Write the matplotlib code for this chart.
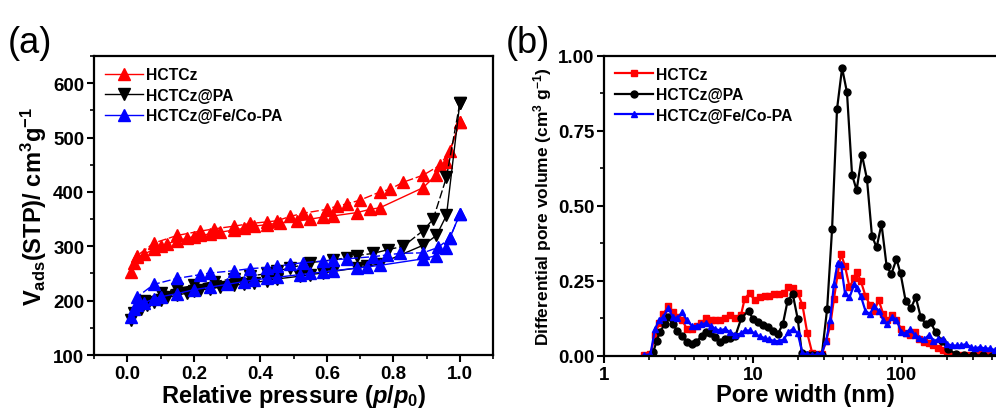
import matplotlib
matplotlib.use('Agg')
import matplotlib.pyplot as plt

plt.rcParams['font.family'] = ['Liberation Sans', 'DejaVu Sans']
plt.rcParams['font.weight'] = 'bold'
plt.rcParams['axes.labelweight'] = 'bold'
plt.rcParams['mathtext.fontset'] = 'custom'
plt.rcParams['mathtext.rm'] = 'Liberation Sans:bold'
plt.rcParams['mathtext.it'] = 'Liberation Sans:bold:italic'
plt.rcParams['mathtext.bf'] = 'Liberation Sans:bold'

# ---- (a) N2 isotherms: adsorption / desorption branches ----
p_ads_1 = [0.01, 0.02, 0.03, 0.05, 0.08, 0.10, 0.12, 0.15, 0.18, 0.20, 0.22, 0.25, 0.28,
           0.32, 0.35, 0.38, 0.42, 0.46, 0.51, 0.55, 0.59, 0.62, 0.69, 0.73, 0.76, 0.89,
           0.93, 0.96, 1.00]
v_ads_1 = [252, 270, 280, 285, 295, 300, 305, 310, 315, 318, 320, 323, 326,
           330, 333, 337, 340, 343, 346, 350, 354, 356, 362, 368, 371, 408,
           432, 456, 528]
p_des_1 = [1.00, 0.97, 0.94, 0.89, 0.83, 0.79, 0.76, 0.70, 0.66, 0.63, 0.60, 0.53, 0.49,
           0.45, 0.42, 0.37, 0.32, 0.26, 0.22, 0.15, 0.08, 0.03]
v_des_1 = [528, 476, 449, 431, 418, 405, 400, 385, 378, 374, 368, 361, 355,
           347, 345, 342, 337, 332, 328, 320, 306, 283]

p_ads_2 = [0.01, 0.02, 0.04, 0.06, 0.08, 0.10, 0.12, 0.15, 0.18, 0.20, 0.22, 0.25, 0.28,
           0.32, 0.35, 0.38, 0.42, 0.45, 0.52, 0.55, 0.59, 0.62, 0.69, 0.72, 0.76, 0.89,
           0.93, 0.96, 1.00]
v_ads_2 = [165, 178, 185, 192, 197, 202, 206, 210, 214, 217, 220, 222, 225,
           228, 231, 233, 237, 240, 245, 248, 251, 254, 260, 263, 268, 302,
           320, 357, 563]
p_des_2 = [1.00, 0.96, 0.92, 0.89, 0.83, 0.785, 0.74, 0.69, 0.66, 0.62, 0.55, 0.49, 0.45,
           0.42, 0.37, 0.32, 0.26, 0.20, 0.15, 0.10, 0.05]
v_des_2 = [563, 427, 350, 329, 300, 294, 287, 283, 279, 275, 270, 260, 255,
           250, 245, 240, 235, 228, 222, 215, 200]

p_ads_3 = [0.01, 0.02, 0.03, 0.05, 0.08, 0.10, 0.15, 0.20, 0.25, 0.30, 0.35, 0.38, 0.42,
           0.45, 0.52, 0.55, 0.59, 0.62, 0.69, 0.72, 0.76, 0.89, 0.93, 0.96, 0.97, 1.00]
v_ads_3 = [170, 185, 192, 196, 203, 207, 213, 220, 225, 230, 235, 238, 241,
           243, 248, 250, 253, 255, 260, 262, 265, 277, 283, 296, 315, 359]
p_des_3 = [1.00, 0.97, 0.935, 0.89, 0.82, 0.78, 0.74, 0.66, 0.62, 0.59, 0.53, 0.49, 0.45,
           0.42, 0.37, 0.32, 0.25, 0.22, 0.15, 0.08, 0.03]
v_des_3 = [359, 315, 298, 288, 287, 284, 281, 277, 275, 273, 270, 267, 263,
           261, 259, 255, 251, 248, 241, 230, 207]

# ---- (b) pore size distribution ----
w_1 = [1.85, 2.05, 2.2, 2.35, 2.5, 2.7, 2.9, 3.1, 3.35, 3.6, 3.9, 4.2, 4.5, 4.85, 5.2, 5.6,
       6.0, 6.5, 7.0, 7.6, 8.3, 8.8, 9.5, 10.3, 11.1, 12.0, 12.9, 13.9, 15.0, 16.1, 17.3,
       18.6, 20.0, 21.5, 23.2, 25.0, 27.0, 29.0, 31.0, 33.0, 35.0, 37.0, 39.0, 41.5, 44.5,
       48.0, 50.0, 53.0, 57.0, 61.0, 65.0, 70.0, 75.0, 80.0, 86.0, 92.0, 99.0, 106, 114,
       122, 131, 141, 152, 163, 175, 188, 202, 217, 233, 255, 280, 310, 340, 370, 400]
dv_1 = [0.003, 0.005, 0.07, 0.11, 0.14, 0.165, 0.145, 0.13, 0.12, 0.09, 0.09, 0.10, 0.11,
        0.125, 0.12, 0.12, 0.12, 0.125, 0.135, 0.125, 0.135, 0.19, 0.21, 0.185, 0.195, 0.20,
        0.20, 0.205, 0.205, 0.21, 0.23, 0.225, 0.21, 0.17, 0.075, 0.01, 0.005, 0.005, 0.05,
        0.10, 0.19, 0.27, 0.34, 0.30, 0.23, 0.26, 0.28, 0.25, 0.20, 0.17, 0.15, 0.185, 0.14,
        0.12, 0.135, 0.12, 0.09, 0.075, 0.07, 0.08, 0.055, 0.048, 0.042, 0.035, 0.028, 0.02,
        0.01, 0.003, 0.0, 0.002, 0.003, 0.004, 0.005, 0.005, 0.005]

w_2 = [2.14, 2.26, 2.37, 2.57, 2.69, 2.9, 3.1, 3.33, 3.59, 3.88, 4.18, 4.52, 4.83, 5.12, 5.55,
       5.99, 6.47, 7.0, 7.6, 8.36, 9.35, 10.0, 10.8, 11.7, 12.6, 13.6, 14.7, 15.9, 17.1,
       18.5, 20.0, 21.3, 23.0, 25.0, 27.0, 29.0, 31.5, 34.0, 36.7, 39.7, 42.8, 46.3, 49.7,
       54.0, 58.3, 63.0, 67.7, 73.0, 79.0, 85.0, 92.0, 98.0, 106, 115, 124, 134, 145, 156,
       169, 185, 204, 230, 260, 300, 350, 400]
dv_2 = [0.012, 0.051, 0.08, 0.107, 0.13, 0.107, 0.084, 0.066, 0.046, 0.04, 0.048, 0.066,
        0.079, 0.075, 0.063, 0.048, 0.055, 0.06, 0.065, 0.126, 0.151, 0.123, 0.112, 0.103,
        0.096, 0.084, 0.073, 0.107, 0.184, 0.207, 0.123, 0.01, 0.003, 0.002, 0.002, 0.003,
        0.157, 0.423, 0.823, 0.96, 0.879, 0.604, 0.553, 0.67, 0.59, 0.40, 0.362, 0.44, 0.30,
        0.273, 0.323, 0.275, 0.184, 0.159, 0.196, 0.129, 0.107, 0.112, 0.079, 0.051, 0.023,
        0.007, 0.003, 0.002, 0.002, 0.001]

w_3 = [1.85, 2.05, 2.2, 2.35, 2.5, 2.7, 2.9, 3.1, 3.35, 3.6, 3.9, 4.2, 4.5, 4.85, 5.2, 5.6,
       6.0, 6.5, 7.0, 7.6, 8.3, 8.8, 9.5, 10.3, 11.1, 12.0, 12.9, 13.9, 15.0, 16.1, 17.3,
       18.6, 20.0, 21.5, 23.2, 25.0, 27.0, 29.0, 31.0, 33.0, 35.0, 37.0, 39.0, 41.5, 44.5,
       48.0, 50.0, 53.0, 57.0, 61.0, 65.0, 70.0, 75.0, 80.0, 86.0, 92.0, 99.0, 106, 114,
       122, 131, 141, 152, 163, 175, 188, 202, 217, 233, 250, 270, 290, 310, 335, 360, 390,
       420]
dv_3 = [0.003, 0.005, 0.09, 0.12, 0.13, 0.16, 0.13, 0.125, 0.145, 0.12, 0.10, 0.10, 0.105,
        0.11, 0.10, 0.09, 0.085, 0.09, 0.08, 0.07, 0.075, 0.085, 0.085, 0.075, 0.065, 0.06,
        0.055, 0.05, 0.05, 0.055, 0.08, 0.09, 0.075, 0.01, 0.005, 0.003, 0.005, 0.01, 0.05,
        0.12, 0.24, 0.31, 0.305, 0.21, 0.195, 0.24, 0.225, 0.20, 0.15, 0.14, 0.165, 0.15,
        0.12, 0.105, 0.13, 0.12, 0.08, 0.075, 0.09, 0.07, 0.06, 0.055, 0.07, 0.05, 0.055,
        0.055, 0.04, 0.035, 0.035, 0.035, 0.04, 0.03, 0.025, 0.03, 0.025, 0.025, 0.02]

labels = ['HCTCz', 'HCTCz@PA', 'HCTCz@Fe/Co-PA']
colors = ['#ff0000', '#000000', '#0000ff']

fig = plt.figure(figsize=(9.96, 4.10), dpi=100)

ax1 = fig.add_axes([0.0944, 0.1317, 0.4006, 0.729])
iso = [(p_ads_1, v_ads_1, p_des_1, v_des_1, '^'),
       (p_ads_2, v_ads_2, p_des_2, v_des_2, 'v'),
       (p_ads_3, v_ads_3, p_des_3, v_des_3, '^')]
for (pa, va, pd_, vd, m), lab, c in zip(iso, labels, colors):
    ax1.plot(pa, va, color=c, marker=m, markersize=8.5, linewidth=1, label=lab)
    ax1.plot(pd_, vd, color=c, marker=m, markersize=8.5, linewidth=1, linestyle=(0, (6, 2)))
ax1.set_xlim(-0.1, 1.1)
ax1.set_ylim(100, 650)
ax1.set_xticks([0.0, 0.2, 0.4, 0.6, 0.8, 1.0])
ax1.set_xticks([-0.1, 0.1, 0.3, 0.5, 0.7, 0.9, 1.1], minor=True)
ax1.set_yticks([100, 200, 300, 400, 500, 600])
ax1.set_yticks([150, 250, 350, 450, 550, 650], minor=True)
ax1.set_xlabel(r'Relative pressure ($p/p_\mathrm{0}$)', fontsize=17, labelpad=0)
ax1.set_ylabel(r'V$_\mathrm{ads}$(STP)/ cm$^3$g$^{-1}$', fontsize=17, labelpad=3)
ax1.legend(loc='upper left', frameon=False, fontsize=11.3, handlelength=2.4,
           handletextpad=0.2, labelspacing=0.35, borderaxespad=0.3)
fig.text(0.008, 0.87, '(a)', fontsize=26, fontweight='normal')

ax2 = fig.add_axes([0.6064, 0.1293, 0.4036, 0.7317])
pmark = ['s', 'o', '^']
psd = [(w_1, dv_1), (w_2, dv_2), (w_3, dv_3)]
for (w, dv), lab, c, m in zip(psd, labels, colors, pmark):
    ax2.plot(w, dv, color=c, marker=m, markersize=5, linewidth=1.6, label=lab)
ax2.set_xscale('log')
ax2.set_xlim(1, 500)
ax2.set_ylim(0, 1.0)
ax2.set_yticks([0.0, 0.25, 0.5, 0.75, 1.0])
ax2.set_yticklabels(['0.00', '0.25', '0.50', '0.75', '1.00'])
ax2.set_yticks([0.125, 0.375, 0.625, 0.875], minor=True)
ax2.set_xticks([1, 10, 100])
ax2.set_xticklabels(['1', '10', '100'])
ax2.set_xlabel('Pore width (nm)', fontsize=17, labelpad=0)
ax2.set_ylabel(r'Differential pore volume (cm$^3$ g$^{-1}$)', fontsize=12.5, labelpad=3)
ax2.legend(loc='upper left', frameon=False, fontsize=11.3, handlelength=2.4,
           handletextpad=0.2, labelspacing=0.35, borderaxespad=0.3)
fig.text(0.508, 0.87, '(b)', fontsize=26, fontweight='normal')

for ax in (ax1, ax2):
    for s in ax.spines.values():
        s.set_linewidth(1.6)
    ax.tick_params(which='major', direction='out', length=5, width=1.5,
                   labelsize=13.5, top=False, right=False, pad=2)
    ax.tick_params(which='minor', direction='out', length=3, width=1.2,
                   top=False, right=False)

fig.savefig('out.png', dpi=100)
